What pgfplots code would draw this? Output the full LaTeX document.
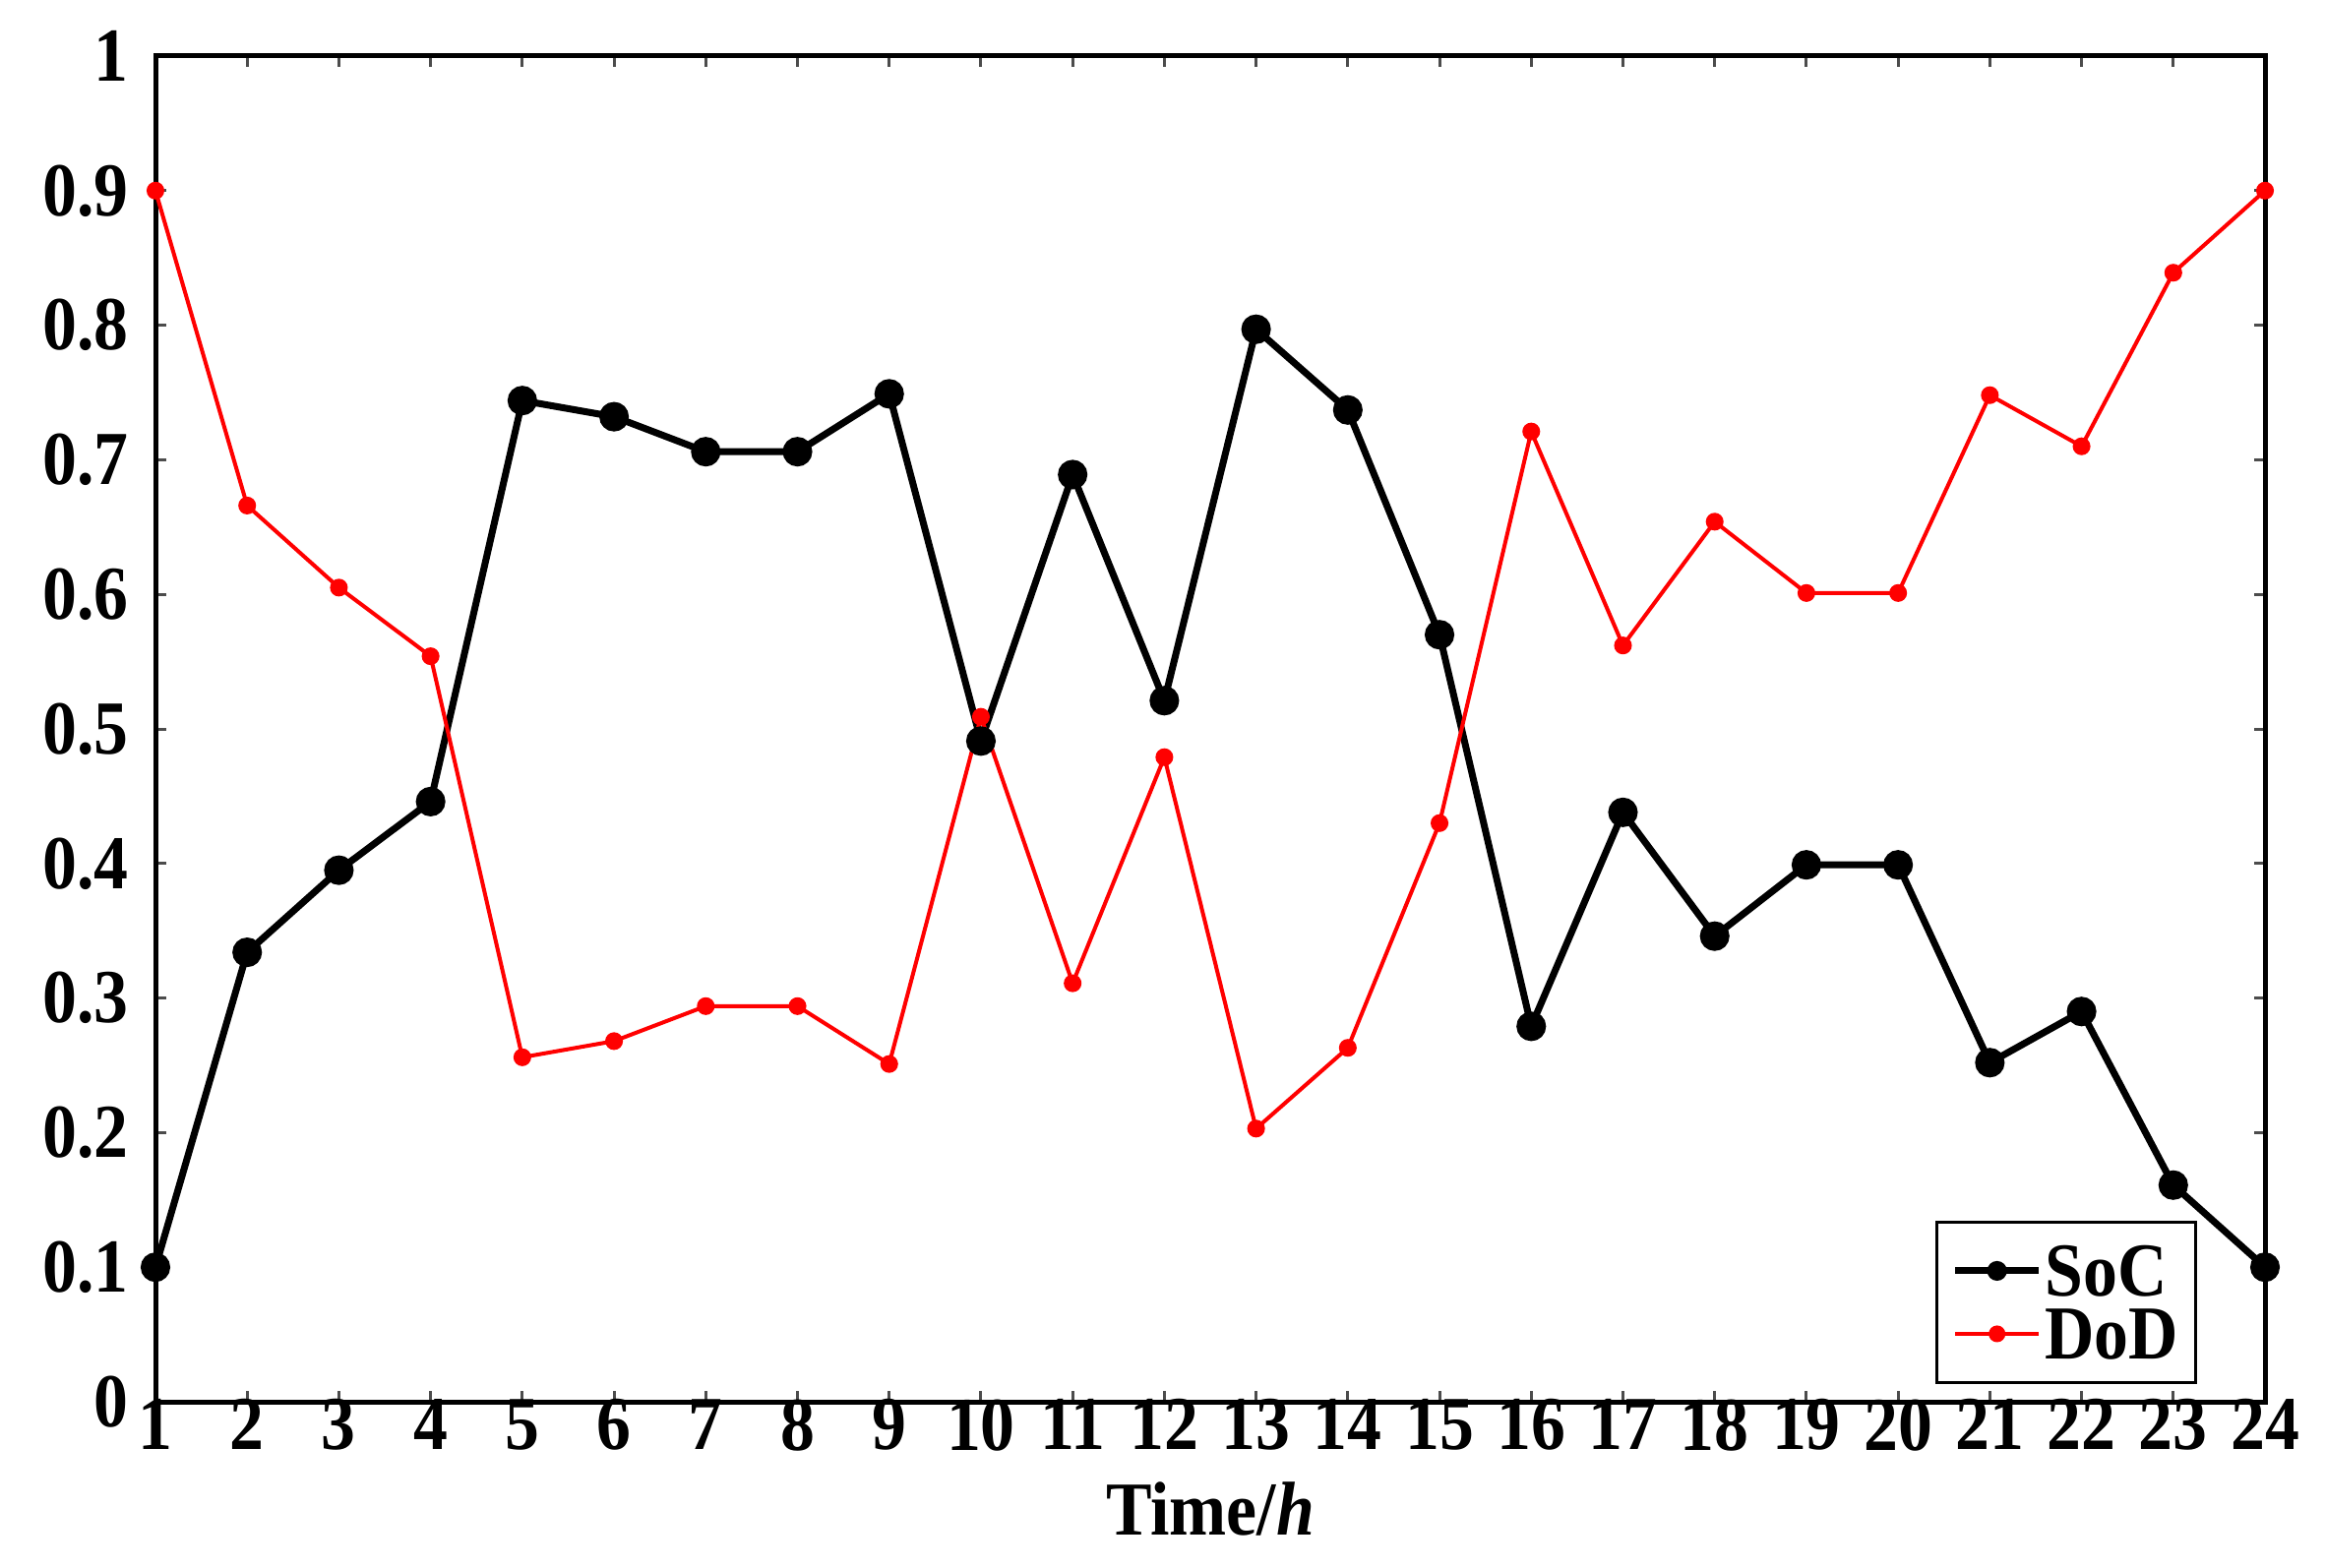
\documentclass[border=0pt]{standalone}
\usepackage{fontspec}
\setmainfont{Liberation Serif}[FakeStretch=0.9]
\usepackage{pgfplots}
\pgfplotsset{compat=1.18}
\pgfplotstableread{
t soc dod
1 0.100 0.900
2 0.334 0.666
3 0.395 0.605
4 0.446 0.554
5 0.744 0.256
6 0.732 0.268
7 0.706 0.294
8 0.706 0.294
9 0.749 0.251
10 0.491 0.509
11 0.689 0.311
12 0.521 0.479
13 0.797 0.203
14 0.737 0.263
15 0.570 0.430
16 0.279 0.721
17 0.438 0.562
18 0.346 0.654
19 0.399 0.601
20 0.399 0.601
21 0.252 0.748
22 0.290 0.710
23 0.161 0.839
24 0.100 0.900
}\datatable
\begin{document}
\begin{tikzpicture}
\begin{axis}[
  scale only axis,
  width=428.8pt, height=273.6pt,
  xmin=1, xmax=24, ymin=0, ymax=1,
  xtick={1,...,24},
  ytick={0,0.1,...,1},
  yticklabels={0,0.1,0.2,0.3,0.4,0.5,0.6,0.7,0.8,0.9,1},
  xticklabels={1,2,3,4,5,6,7,8,9,10,11,12,13,14,15,16,17,18,19,20,21,22,23,24},
  tick align=inside,
  major tick length=2.2pt,
  tick style={gray!60!black, line width=0.6pt},
  axis line style={line width=1pt},
  every axis/.append style={line width=1pt},
  font=\bfseries\fontsize{15.5}{18}\selectfont,
  ticklabel style={font=\bfseries\fontsize{15.5}{18}\selectfont},
  xticklabel style={yshift=2pt, inner sep=1pt},
  yticklabel style={inner sep=1pt, xshift=-4pt},
  xlabel={Time/\textit{h}},
  xlabel style={yshift=-1.5pt},
  legend cell align=left,
  legend style={at={(rel axis cs:0.9678,0.0132)}, anchor=south east,
    draw=black, line width=0.6pt, inner xsep=3pt, inner ysep=4pt,
    font=\bfseries\fontsize{15.5}{18}\selectfont, row sep=1pt,
    nodes={inner sep=0.5pt, text height=10.5pt, text depth=0.3pt}},
  legend image code/.code={
    \draw[#1, mark=none] (0cm,0cm) -- (0.6cm,0cm);
    \draw[#1, mark size=1.3pt] plot coordinates {(0.3cm,0cm)};
  },
]
\coordinate (ll) at (rel axis cs:0,0);
\coordinate (ur) at (rel axis cs:1,1);
\addplot[black, line width=1.4pt, mark=*, mark size=2.3pt] table[x=t, y=soc] {\datatable};
\addlegendentry{SoC}
\addplot[red, line width=0.8pt, mark=*, mark size=1.4pt] table[x=t, y=dod] {\datatable};
\addlegendentry{DoD}
\end{axis}
\pgfresetboundingbox
\path[use as bounding box] ([shift={(-31.6pt,-33.6pt)}]ll) rectangle ([shift={(12.2pt,11.4pt)}]ur);
\end{tikzpicture}
\end{document}
